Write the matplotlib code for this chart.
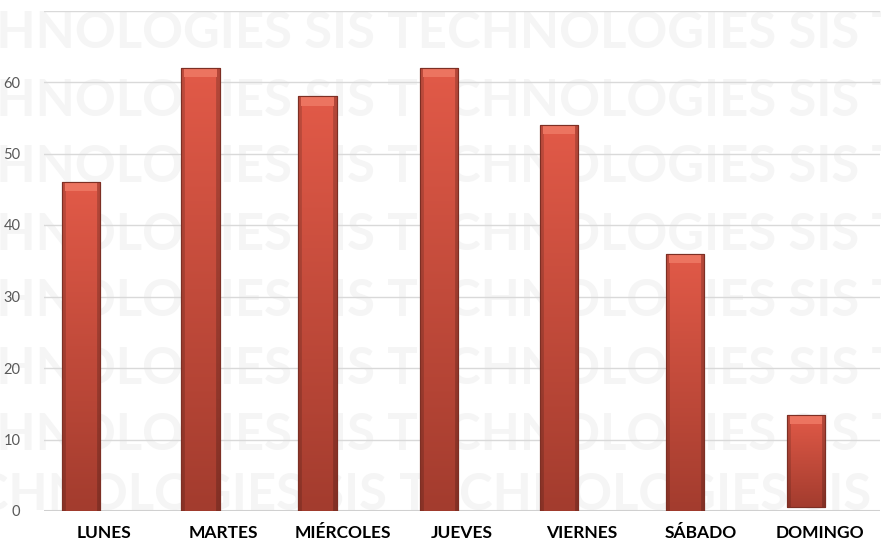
import numpy as np
import matplotlib
matplotlib.use("Agg")
import matplotlib.pyplot as plt
from matplotlib.patches import Rectangle

categories = ["LUNES", "MARTES", "MIÉRCOLES", "JUEVES", "VIERNES", "SÁBADO", "DOMINGO"]
values = [46, 62, 58, 62, 54, 36, 12.9]
bottoms = [0, 0, 0, 0, 0, 0, 0.5]
yticks = [0, 10, 20, 30, 40, 50, 60]
watermark = "TECHNOLOGIES SIS "

W, H, DPI = 881, 544, 100
fig = plt.figure(figsize=(W / DPI, H / DPI), dpi=DPI)
fig.patch.set_facecolor("white")

# watermark rows (figure pixel coords)
wm_color = "#f5f5f5"
wm_font = "Lato"
renderer = fig.canvas.get_renderer()
a = fig.text(0, 0, watermark * 2 + "X", fontsize=36, fontweight="bold", family=wm_font)
b = fig.text(0, 0, watermark + "X", fontsize=36, fontweight="bold", family=wm_font)
period = a.get_window_extent(renderer).width - b.get_window_extent(renderer).width
a.remove(); b.remove()
fs = 36 * 484.0 / period
c = fig.text(0, 0, "TEC", fontsize=fs, fontweight="bold", family=wm_font)
d = fig.text(0, 0, "TECSIS", fontsize=fs, fontweight="bold", family=wm_font)
e = fig.text(0, 0, "SIS", fontsize=fs, fontweight="bold", family=wm_font)
tec_w = d.get_window_extent(renderer).width - e.get_window_extent(renderer).width
c.remove(); d.remove(); e.remove()
row_y = [34, 101, 168, 235, 302, 369, 436]
for yy in row_y:
    fig.text(-(tec_w + 4) / W, 1 - yy / H, watermark * 3, fontsize=fs, fontweight="bold",
             family=wm_font, color=wm_color, va="center", ha="left", zorder=-5)
fig.text(-(tec_w - 8) / W, 1 - 495 / H, watermark * 3, fontsize=fs, fontweight="bold",
         family=wm_font, color=wm_color, va="center", ha="left", zorder=-5)

ax = fig.add_axes([44 / W, 1 - 511 / H, 836 / W, 500.5 / H])
ax.set_zorder(1)
ax.set_facecolor("none")

for v in yticks[1:] + [70]:
    ax.axhline(v, color="#d9d9d9", lw=1.0, zorder=1)
ax.axhline(0, color="#d0d0d0", lw=2.2, zorder=1)

x = np.arange(len(categories))
offsets = [-0.19, -0.19, -0.21, -0.19, -0.19, -0.13, -0.12]
bx = x + np.array(offsets)
bars = ax.bar(bx, values, width=0.32, bottom=bottoms, color="#c94c3c",
              edgecolor="#7d2f24", linewidth=0.8, zorder=3)

# gradient fill for each bar
top_c = np.array([226, 90, 72]) / 255
bot_c = np.array([163, 60, 46]) / 255
ny, nx = 200, 40
ty = np.linspace(0, 1, ny)[:, None, None]
grad = top_c * (1 - ty) + bot_c * ty
hx = np.linspace(0, 1, nx)
shade = np.ones(nx)
shade[hx < 0.1] = 0.84
shade[hx > 0.9] = 0.80
img = np.clip(grad * shade[None, :, None], 0, 1)
for p in bars:
    x0, y0, w, h = p.get_x(), p.get_y(), p.get_width(), p.get_height()
    im = ax.imshow(img, extent=[x0, x0 + w, y0, y0 + h], aspect="auto",
                   zorder=3.5, interpolation="bilinear")
    im.set_clip_path(p)
    band = 1.3
    ax.add_patch(Rectangle((x0 + w * 0.08, y0 + h - band), w * 0.84, band,
                           facecolor="#ec7460", edgecolor="none", zorder=3.8))
    ax.add_patch(Rectangle((x0, y0), w, h, facecolor="none", edgecolor="#7d2f24",
                           lw=0.8, zorder=4))
ax.set_aspect("auto")
ax.set_xlim(-0.5, len(categories) - 0.5)
ax.set_ylim(0, 70)

ax.set_yticks(yticks)
ax.set_yticklabels([str(v) for v in yticks])
ax.set_xticks(x)
ax.set_xticklabels(categories)
ax.tick_params(axis="y", length=0, pad=17, labelsize=10.5, labelcolor="#595959")
ax.tick_params(axis="x", length=0, pad=10, labelsize=12.5)
for lab in ax.get_xticklabels():
    lab.set_fontweight("bold")
    lab.set_family("Lato")
for lab in ax.get_yticklabels():
    lab.set_family("Lato")
for s in ax.spines.values():
    s.set_visible(False)

fig.savefig("out.png", dpi=DPI, facecolor="white")
